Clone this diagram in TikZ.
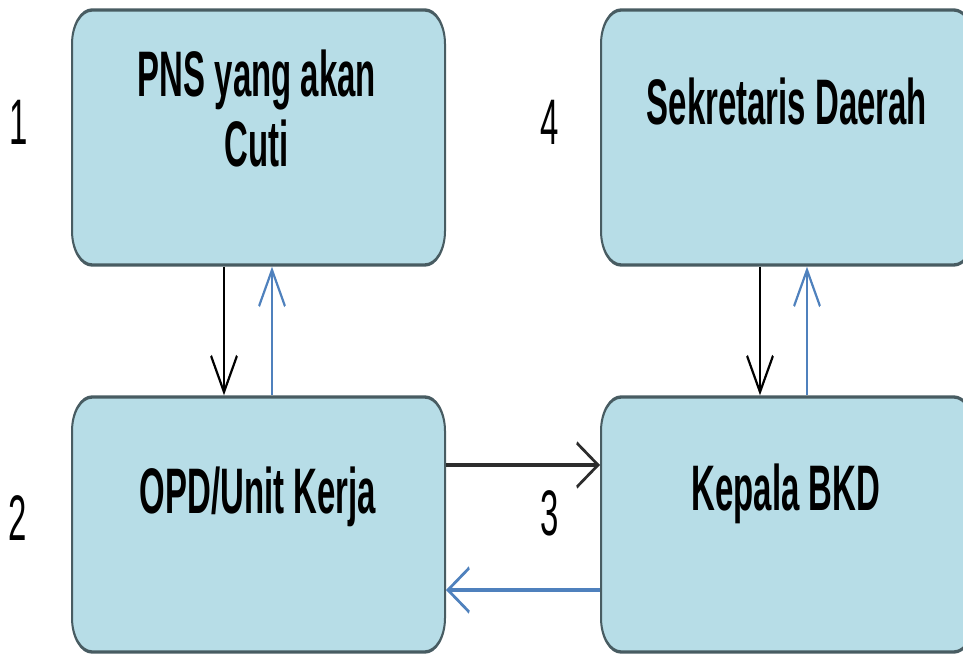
\documentclass[tikz,border=0pt]{standalone}
\usepackage{fontspec}
\setmainfont{Liberation Sans}
\newfontfamily\boxfont[FakeStretch=0.87]{Liberation Sans}
\usetikzlibrary{arrows.meta}

\definecolor{boxfill}{RGB}{183,221,231}
\definecolor{boxline}{RGB}{72,92,98}
\definecolor{backblue}{RGB}{79,129,189}

\tikzset{
  unitbox/.style={draw=boxline, fill=boxfill, line width=1.5pt, rounded corners=15pt,
    minimum width=279.75pt, minimum height=112.5pt, inner sep=0pt},
  boxtext/.style={font=\boxfont\fontsize{28.4}{30.9}\selectfont\bfseries, align=center, inner sep=0pt},
  steplabel/.style={font=\boxfont\fontsize{28.4}{30}\selectfont, inner sep=0pt},
  sendline/.style={black, line width=1.5pt, -{Straight Barb[length=16pt,width=19.5pt]}},
  backline/.style={backblue, line width=1.5pt, -{Straight Barb[length=16pt,width=19.5pt]}},
}

\begin{document}
\begin{tikzpicture}[x=0.75pt,y=0.75pt,yscale=-1,xscale=1]
\useasboundingbox (0,0) rectangle (963,655);
\clip (0,0) rectangle (963,655);

% the whole chart is stretched 1.7x in height
\begin{scope}[y=0.441176pt, transform canvas={yscale=1.7}]

%Rounded Rect
\node [unitbox] (b1) at (258.5,137.5) {};
%Rounded Rect
\node [unitbox] (b4) at (787.5,137.5) {};
%Rounded Rect
\node [unitbox] (b2) at (258.5,524.5) {};
%Rounded Rect
\node [unitbox] (b3) at (787.5,524.5) {};

% Text Node
\node [boxtext, anchor=base] (t1) at (257,167) {PNS yang akan\\Cuti};
% Text Node
\node [boxtext, anchor=base] (t4) at (787,125) {Sekretaris Daerah};
% Text Node
\node [boxtext, anchor=base] (t2) at (258,513) {OPD/Unit Kerja};
% Text Node
\node [boxtext, anchor=base] (t3) at (786,510) {Kepala BKD};

% Text Node
\node [steplabel, anchor=base] (n1) at (19,145) {1};
% Text Node
\node [steplabel, anchor=base] (n4) at (550,145) {4};
% Text Node
\node [steplabel, anchor=base] (n2) at (18,540) {2};
% Text Node
\node [steplabel, anchor=base] (n3) at (550,535) {3};

%Straight Lines
\draw [sendline] (b1.south -| 224,0) -- (b2.north -| 224,0);
\draw [backline] (b2.north -| 272,0) -- (b1.south -| 272,0);
\draw [sendline] (b4.south -| 760,0) -- (b3.north -| 760,0);
\draw [backline] (b3.north -| 807,0) -- (b4.south -| 807,0);
\draw [sendline, draw={rgb,255:red,45;green,45;blue,45}] (b2.east |- 0,465) -- (b3.west |- 0,465);
\draw [backline] (b3.west |- 0,590) -- (b2.east |- 0,590);

\end{scope}
\end{tikzpicture}
\end{document}
